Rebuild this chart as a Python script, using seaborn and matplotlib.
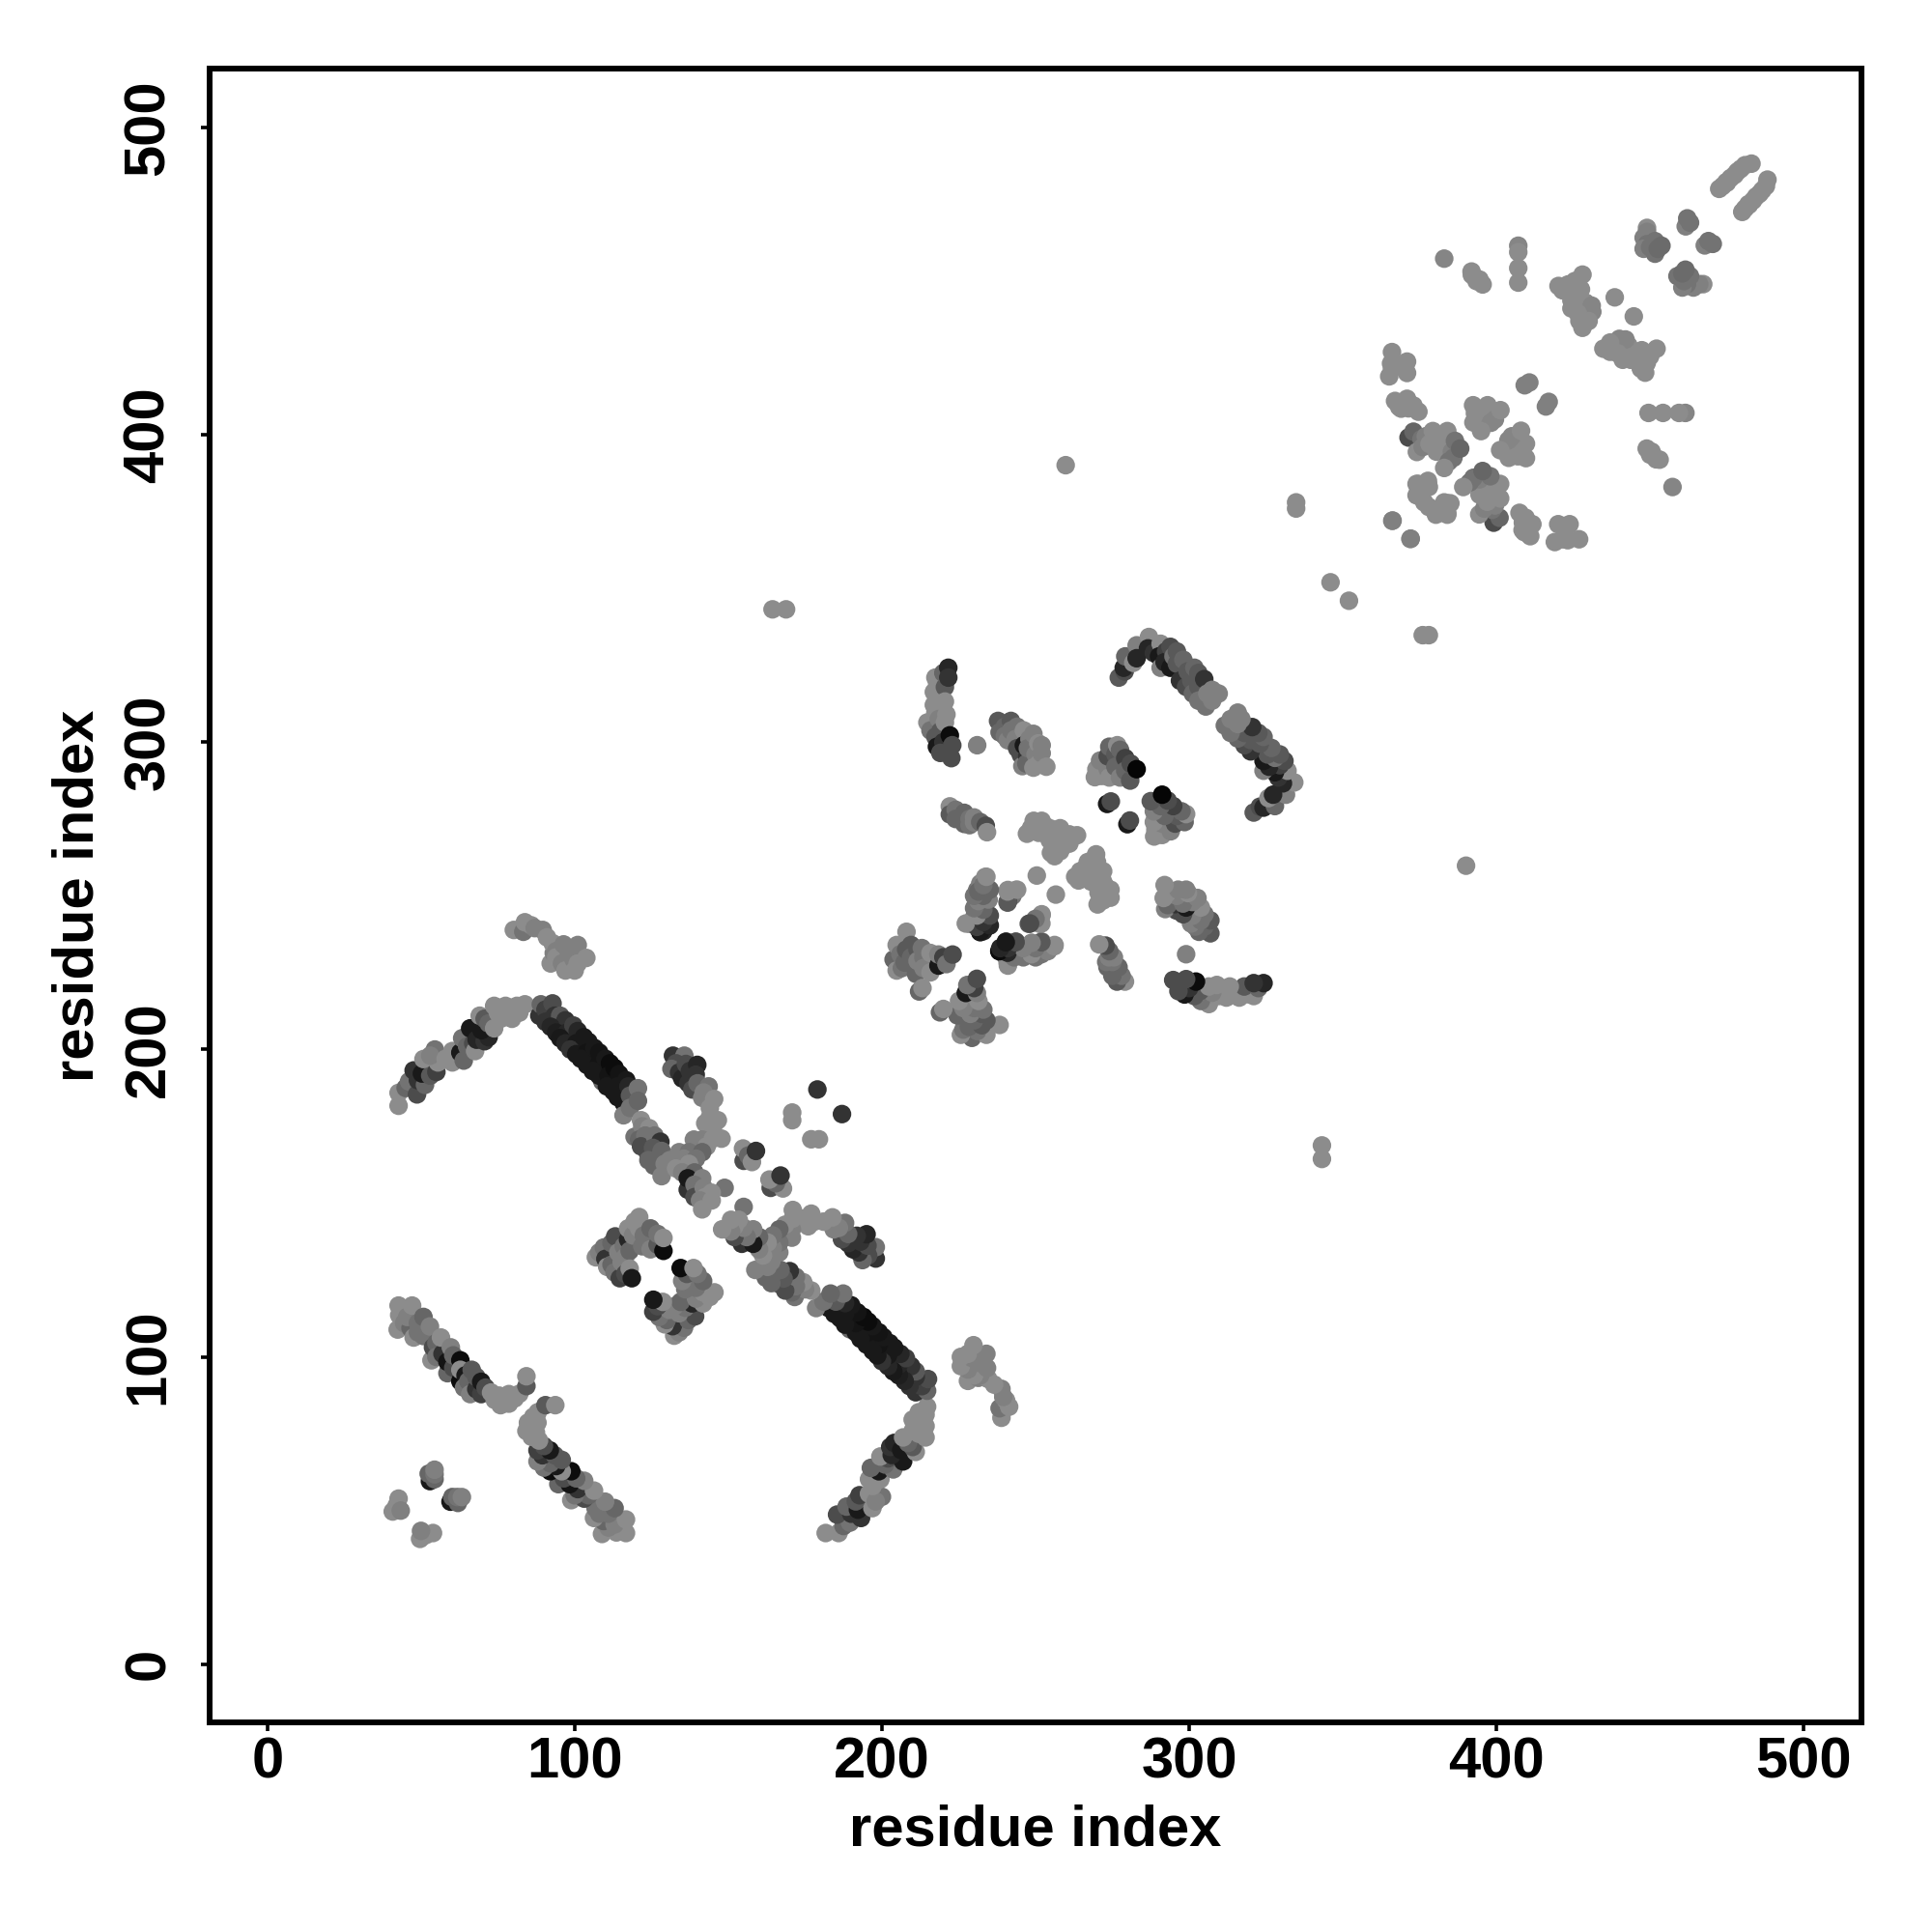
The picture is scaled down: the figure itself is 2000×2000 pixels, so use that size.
import pandas as pd
import seaborn as sns
import matplotlib.pyplot as plt

arc_a = [(42.7,181.7,.55),(42.7,185.9,.55),(45,187.5,.4),(46.1,189.6,.45),(47.6,193.2,.2),(48.7,185.4,.3),(49,190,.2),
         (51.3,188.5,.4),(50.3,192.2,.1),(53,191.5,.35),(50.8,196.9,.55),(54.5,200,.45),(55,192.7,.25),(55.5,195.8,.55),
         (53,198,.5),(58,197,.55),(60.2,199.5,.55),(60.2,195.8,.55),(62.8,199,.1),(63.4,203.7,.45),(63.9,196.4,.4),
         (65,201,.4),(67,202,.3),(67.6,199.5,.55),(66,206.9,.1),(68.1,203.2,.15),(70.7,202.7,.2),(72,204,.15),
         (69.7,206.3,.1),(69.1,211,.55),(70.7,210,.35),(72,208.5,.4),(73.8,206.9,.55),(73.8,214.2,.55),(75.9,210,.55),
         (75,212,.55),(78,212,.55),(79.6,210,.55),(77.5,214.2,.55),(82,212,.55),(81.2,214.2,.55),(83.8,214.7,.55)]

arc_b = [(88.5,211,.2),(89,214.7,.4),(90.5,213,.25),(90.5,209,.2),(92.8,215,.3),(93.5,211,.2),(95.3,211,.35),(97,209.5,.2),
         (92.2,207.4,.15),(94,205.5,.12),(97.5,205.5,.15),(99.6,207.8,.25),(101,206,.15),(95.3,203.7,.1),(97,202,.15),
         (100.5,202,.1),(98.6,200,.2),(103,204,.1),(104.5,202.5,.1),(100.5,198.5,.1),(104,199,.08),(102,197,.1),(104,195,.1),
         (106.4,200.5,.1),(108,199,.08),(108,195.5,.08),(105.9,193,.1),(109,189.6,.4),(108,191.5,.1),(110,197,.1),
         (111.5,195.5,.05),(111,191.5,.08),(113,194,.05),(110.5,188,.1),(114.5,192,.08),(112.6,186.4,.1),(114,188,.1),
         (116.8,190,.1),(114,184.5,.1),(115.9,182.7,.1),(115.9,178.6,.5),(117.5,188,.15),(118,185,.35),(118,181,.45),
         (120.6,187.4,.45),(120.6,183.3,.4),(121.6,177,.55),(119.5,171.6,.45),(122,175,.5),(124.3,174.4,.55),(121,170.7,.4),
         (123,172,.45),(121.6,168.5,.3),(123.7,166.6,.3),(126,172,.45),(127.9,170,.2),(125.5,168,.35),(128.3,167,.4),
         (124,164,.4),(127,164.5,.4),(125.8,162.2,.4),(129.3,162.8,.5),(128.3,158.8,.5)]

near_130 = [(132,198,.2),(135.7,198,.45),(133,195.5,.3),(131.5,193.7,.4),(134,192.5,.2),(135,190.6,.15),(136.2,195.3,.3),
            (137.5,193,.2),(137,189,.2),(139.9,195,.15),(139.4,191.8,.2),(138.3,187,.3),(140,189,.4),(143.6,188,.45),
            (142,186,.5),(141.5,184.3,.5),(145.4,183.9,.55),(144,181,.55),(144,178,.55),(146.6,177,.55),(142.5,176,.55),
            (145,174.5,.55),(138.8,170.7,.5),(141.5,170.7,.5),(145,171,.55),(147.8,171,.55),(139,168.5,.5),(143,168.5,.55),
            (134,166.6,.5),(137.2,166.6,.45),(141.5,166.6,.4),(135.5,164.5,.5),(139.5,164.5,.45),(131,164,.5),(133,161.3,.55),
            (137.2,162.8,.55),(135,160,.5),(139,160,.4),(136.8,154.4,.2),(136.8,158.1,.1),(141.5,158.1,.5),(139,156,.45),
            (139,152,.3),(148.8,155,.45),(142,155,.5),(144.6,153.4,.55),(142.5,152,.55),(140.8,150.9,.5),(144.6,150.9,.55),
            (141.5,148,.55)]

near_diag_160 = [(155,163.8,.3),(154.8,167.8,.55),(156.5,165.5,.4),(157.7,163.4,.55),(159,167,.2),
                 (170.8,179.5,.55),(170.8,177,.55),(179,187,.2)]

arc_d = [(80.2,238.9,.55),(83.3,238.3,.45),(83.8,241.4,.55),(85.9,240.4,.55),(87,239.5,.5),(89.6,238.9,.5),(91,236.5,.55),
         (92.2,228,.55),(93.2,231.4,.5),(92.8,234.6,.55),(94,232,.5),(94,230,.55),(95.9,228,.5),(96.4,234.2,.5),(98,232,.5),
         (97,225.7,.55),(99.6,229.4,.5),(100,225.7,.55),(101,228,.55),(101,234,.5),(103.8,229.8,.55)]

lobe_120 = [(106.9,132.4,.55),(108,134,.5),(109.5,135.6,.45),(110,131.9,.2),(110.6,129.3,.55),(112,137,.4),(112,130,.4),
            (113.2,139.2,.3),(113,127.5,.45),(114.2,134,.5),(114.7,125.6,.25),(115.3,130.8,.5),(116,136,.45),(116.5,132.5,.5),
            (116.5,127,.3),(117.4,138.2,.15),(117.4,141.8,.55),(117.9,134.5,.4),(117.9,128.7,.55),(118.6,125.6,.1),
            (119,139.5,.5),(119.5,144,.55),(121,145.5,.55),(121,141.8,.55),(122.5,139.5,.45),(122,136,.45),(124.2,138.2,.45),
            (124.7,141.8,.4),(124.7,135,.5),(127,136.5,.35),(127,140,.45),(128.9,134.5,.05),(128.9,138.7,.55)]

band_e = [(42.4,108.9,.55),(42.9,113.6,.55),(42.7,116.7,.55),(44.5,111,.5),(46.6,109.4,.4),(45.5,113,.5),(47.1,116.7,.55),
          (47.6,106.3,.55),(49,111,.45),(49,108,.45),(50.8,106.8,.45),(50.8,113,.4),(52.9,109.9,.5),(53.4,98.9,.55),
          (53.9,103.1,.3),(55,104.5,.4),(55,100,.45),(57,101,.2),(56.5,106.3,.55),(58.6,94.7,.4),(58.6,98.4,.08),
          (60.5,96.5,.3),(59.7,103.1,.5),(60.5,100.5,.4),(62.8,92.1,.05),(62.8,98.9,.05),(62.8,95.8,.55),(64.5,94,.1),
          (64,90,.45),(65.4,92.1,.4),(66,87.9,.5),(66.5,95.8,.35),(68,89.5,.2),(68,93.5,.35),(69.6,87.9,.25),(69.6,91.9,.1),
          (71,90,.3),(72.8,88.4,.55),(74,86,.55),(75.9,84.3,.55),(75.4,87.4,.55),(77,86,.55),(78.6,87.9,.55),(78.6,84.8,.55),
          (80.5,86.5,.55),(82,88,.55),(84.3,90.5,.35),(84.3,93.7,.55)]

small_45 = [(40.8,49.7,.55),(42.7,53.9,.55),(42,51.5,.55),(43.4,50,.5),(52.9,59.6,.1),(52.5,62,.4),(54.4,60.2,.4),
            (54.4,61.8,.45),(54.4,63.3,.5)]

lobe_g = [(214.8,306.4,.55),(215.8,303.8,.45),(216.9,316.3,.55),(216.9,312.1,.55),(217.4,321,.55),(218,319,.55),
          (219,315,.55),(217.4,309.5,.55),(218.5,307.5,.5),(217.4,301.7,.35),(219,303.5,.35),(217.9,298.5,.1),(220,300,.2),
          (219,296.5,.3),(220.5,317.9,.35),(220.5,313.2,.55),(221,309,.55),(220.5,306.4,.55),(220,322.5,.4),(221.6,324.2,.15),
          (221.6,321,.2),(222.1,302.2,.05),(222.6,294.8,.3),(222.9,299,.3),(231,299,.5)]

lobe_h = [(237.8,306.9,.35),(238.3,303.2,.4),(240,305,.4),(240,302,.45),(241,300.6,.5),(242,306.9,.35),(242,303.8,.45),
          (244,305,.45),(243.5,301,.5),(244,298,.3),(245.2,295.9,.3),(246.2,303.8,.55),(246.2,299,.1),(245.7,292.2,.5),
          (247.3,295.4,.2),(247,293,.4),(248,301,.5),(247.5,298,.45),(249.3,302.7,.5),(250,296,.5),(249.3,291.7,.55),
          (251,293,.55),(250.9,299.6,.55),(252,299,.5),(252,296.4,.5),(253.5,292,.55)]

arc_i = [(277.1,321,.35),(279,323,.3),(278.7,324.2,.15),(279.2,327.9,.4),(281.8,325.8,.55),(284,329.5,.3),(282.9,331.5,.5),
         (282.9,327.3,.15),(286.9,334.2,.55),(286.6,330.5,.15),(288.5,329,.2),(290.7,332,.55),(290.2,327.9,.1),(290.7,324.2,.5),
         (292.5,329.5,.25),(292,326,.15),(293.9,331,.3),(293.9,324.2,.1),(294.9,327.9,.45),(296,329.5,.35),(296,325.5,.35),
         (297,320,.2),(298.1,326.8,.4),(299,318,.3),(299.5,323,.35),(300.7,320,.35),(301.2,315.8,.4),(301.7,324.2,.4),
         (303,322.5,.35),(303,318,.35),(303,313.5,.45),(304.9,320.5,.2),(305.4,311.6,.45),(305.9,315.8,.5),(307.5,317,.5),
         (307.5,313.5,.5),(309.6,315.8,.5)]

lobe_j = [(269.3,288.6,.55),(269.8,291.2,.55),(271.5,289,.55),(271,294,.5),(273.5,291.2,.5),(274,288.5,.55),(273.5,295.4,.3),
          (274,298.5,.4),(276,296,.35),(276,292,.4),(277.5,288.5,.5),(276.6,299,.55),(277.5,297.5,.4),(279.2,294.8,.25),
          (279.2,290.7,.4),(281,293,.3),(280.8,287.5,.35),(282.9,291.2,.02),(273.3,279.9,.1),(274.5,280.7,.3)]

diag_260 = [(247.2,270.2,.55),(248.5,272,.55),(249.4,274.4,.55),(251,270.5,.55),(252,274.4,.55),(253.5,272.5,.55),
            (254.6,268.1,.55),(255.1,271.8,.55),(255,264,.55),(256,266,.55),(256.5,270,.55),(256.2,262.9,.55),(258,264.5,.55),
            (258,272,.55),(258.8,266,.55),(259.3,269.2,.55),(261,270,.55),(261,267,.55),(263.5,269.7,.55),(250.4,256.6,.55)]

lobe_l = [(228.4,240.9,.55),(230,243,.45),(231,251.9,.45),(231,248.7,.55),(231.5,240.9,.15),(232,238.2,.05),(232,254,.5),
          (233,250,.45),(233,246,.5),(233,241,.2),(233,238.5,.15),(233.6,256.1,.55),(234.9,251.9,.35),(234.7,248.7,.5),
          (234.9,243.5,.3),(234.9,240.3,.1),(241,251.9,.55),(243.6,251.9,.55),(242.5,250,.45),(241,248.2,.3),
          (247.8,240.9,.35),(252,244,.55),(251.4,240.9,.55)]

lobe_m = [(238.3,232,.1),(239.9,230.9,.25),(240.4,235.1,.15),(241,227.3,.55),(241.5,233,.2),(243.6,235.1,.3),(243.6,230.9,.55),
          (245.5,233,.4),(246,230,.45),(248.3,231.4,.5),(248.8,234.6,.5),(250,233,.4),(250,230,.45),(251.4,231.4,.4),
          (252,235.1,.4),(253.5,233,.45),(256.2,234,.55)]

lobe_n = [(203.8,229.3,.4),(204.8,234,.55),(204.8,225.7,.55),(206,231,.45),(206.5,226.5,.45),(207.4,228.3,.4),(207.9,232.5,.35),
          (208,238.3,.55),(209.5,234,.35),(209.5,230,.4),(211.1,224.6,.4),(211.6,232.5,.35),(211.6,228.8,.5),(212.1,218.9,.4),
          (213.2,220,.55),(213,233,.45),(213.5,230,.45),(213.5,226.5,.5),(215.8,231.4,.55),(215.8,225.1,.55),(218.4,227.3,.1),
          (218.4,230.9,.5),(220,230,.25),(221,227.8,.45),(223,230.9,.3)]

lobe_p = [(222.1,279.1,.55),(222.1,276.5,.35),(224,278,.45),(224,275,.4),(226.8,277,.4),(226.8,273.4,.4),(228.5,275,.45),
          (228.5,273,.45),(230,275.5,.5),(230,273.9,.5),(232,274,.4),(233.8,272.8,.3),(234.2,270.7,.55)]

singles = [(164.4,343.2,.55),(168.8,343.2,.55),(259.8,390.1,.55),(334.8,376,.55),(334.8,378,.55),(346,352,.55)]

upper_390 = [(365.1,419,.55),(365.7,423.2,.55),(366,421.5,.55),(366,426.9,.55),(370.9,423.8,.55),(370.9,420.1,.55),
             (367,411,.55),(368.3,409.1,.55),(369,408.5,.55),(370.9,411.7,.55),(371.4,408.6,.55),(373,409.5,.55),(374.6,407.5,.55),
             (371.4,399.1,.3),(373,401,.4),(375.6,398.6,.45),(374.1,394.4,.55),(376,396,.5),(377,399.5,.5),(378.2,397,.55),
             (379.3,401.2,.55),(381,399.5,.55),(380.5,394.5,.55),(382.4,397,.55),(384,401.2,.55),(385.5,394.5,.5),(386.5,398,.45),
             (384.5,391.3,.45),(386,392.5,.45),(383,389.2,.55),(388.2,395.5,.4),(377.7,385,.55),(374,384,.55),(375,382,.55),
             (378,383,.55),(374,380.3,.55),(376.5,378,.55),(382,376,.55),(384,377.7,.55),(380.3,374.5,.55),(384,374.5,.55),
             (366.2,372.1,.5),(372,366.1,.5),(392.4,409.6,.55),(393,407,.55),(395,406.5,.55),(394,403.5,.55),(392.5,404,.55),
             (396,404.5,.55),(397.1,409.6,.55),(399,407.5,.55),(399.5,405,.52),(398.2,403.9,.52),(401.3,408,.55),(395,401.2,.55),
             (409.2,416.1,.5),(410.7,417,.5)]

upper_430 = [(383,457.3,.52),(391.9,453.1,.55),(392,452,.55),(393.5,450,.55),(394.5,450.5,.55),(395.5,448.9,.55),(407.1,461.5,.52),
             (407.1,459.4,.55),(407.1,454.2,.55),(407.1,449.5,.55),(420.2,448.4,.55),(421.5,447,.55),(423.3,448.9,.55),(425.5,450,.55),
             (428,452.1,.55),(427.5,447.3,.55),(426,445,.55),(424.4,443.7,.55),(424.4,441.1,.55),(429,443,.55),(431,442,.52),
             (431.2,440,.52),(426.5,439.5,.55),(427,437,.55),(430,437,.55),(428,434.8,.55),(438.5,444.7,.55)]

upper_460 = [(449,467.3,.55),(449,466,.5),(447.9,464.1,.5),(449,462,.45),(447.9,460.5,.5),(450,461,.45),(451.6,463,.45),
             (451.6,458.9,.45),(452.5,460.5,.42),(453.7,461.5,.42),(461.6,467.8,.5),(462.1,470.4,.45),(463,469,.45),(472.5,480,.55),
             (473.6,480.9,.55),(474.8,482.2,.55),(475,482,.55),(476.2,483.5,.55),(477.5,484.5,.55),(478.4,485.6,.55),
             (479.5,486.5,.55),(480.9,487.7,.55),(483,488.2,.55)]

tick_values = [0, 100, 200, 300, 400, 500]

contacts = (arc_a + arc_b + near_130 + near_diag_160 + arc_d + lobe_120 + band_e + small_45 + lobe_g + lobe_h
            + arc_i + lobe_j + diag_260 + lobe_l + lobe_m + lobe_n + lobe_p + singles + upper_390 + upper_430 + upper_460)

upper = pd.DataFrame(contacts, columns=['i', 'j', 'shade'])
lower = upper.rename(columns={'i': 'j', 'j': 'i'})
df = pd.concat([upper, lower], ignore_index=True)

sns.set_style("white")
plt.rcParams['font.family'] = ['Liberation Sans', 'DejaVu Sans']
plt.rcParams['font.weight'] = 'bold'
plt.rcParams['text.color'] = 'black'
plt.rcParams['axes.labelcolor'] = 'black'
plt.rcParams['xtick.labelcolor'] = 'black'
plt.rcParams['ytick.labelcolor'] = 'black'

fig = plt.figure(figsize=(10, 10), dpi=200)
ax = fig.add_axes([217 / 2000, 1 - 1783 / 2000, (1927 - 217) / 2000, (1783 - 71.4) / 2000])

sns.scatterplot(data=df, x='i', y='j', hue='shade', hue_norm=(0, 1), palette='gray',
                s=48, linewidth=0, legend=False, ax=ax)

ax.set_xlim(-18.8, 518.8)
ax.set_ylim(-18.9, 519)
ax.set_xticks(tick_values)
ax.set_yticks(tick_values)

for side in ax.spines.values():
    side.set_linewidth(2.15)
    side.set_color('black')

ax.tick_params(axis='both', direction='out', length=3.2, width=1.3, color='black',
               labelsize=21.5, left=True, bottom=True)
ax.tick_params(axis='x', pad=2)
ax.tick_params(axis='y', pad=9.4)
plt.setp(ax.get_yticklabels(), rotation=90, va='center', fontweight='bold')
plt.setp(ax.get_xticklabels(), fontweight='bold')

ax.set_xlabel('residue index', fontsize=21.5, fontweight='bold', labelpad=5.5)
ax.set_ylabel('residue index', fontsize=21.5, fontweight='bold', labelpad=6.6)

fig.savefig('out.png', dpi=200)
